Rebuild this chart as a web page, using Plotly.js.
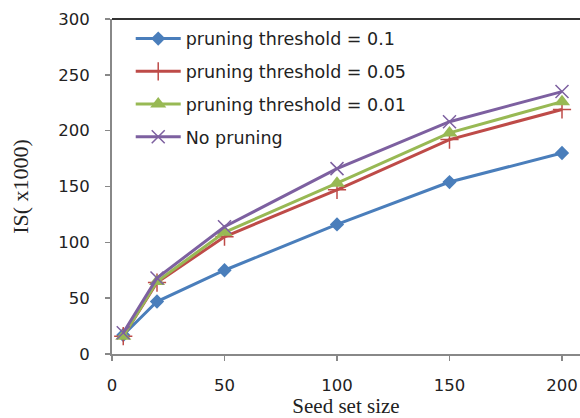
<!DOCTYPE html>
<html>
<head>
<meta charset="utf-8">
<script src="https://cdn.plot.ly/plotly-3.0.1.min.js"></script>
<style>html,body{margin:0;padding:0;background:#fff;}</style>
</head>
<body>
<div id="chart" style="width:580px;height:418px;"></div>
<script>
const seedSizes = [5, 20, 50, 100, 150, 200];
const thr01 = [17, 47, 75, 116, 154, 180];
const thr005 = [16, 64, 105, 147, 192, 219];
const thr001 = [16, 65, 109, 153, 198, 226];
const noPruning = [19, 68, 114, 166, 208, 235];
const seriesNames = ['pruning threshold = 0.1', 'pruning threshold = 0.05', 'pruning threshold = 0.01', 'No pruning'];
const yTicks = [0, 50, 100, 150, 200, 250, 300];
const xTicks = [0, 50, 100, 150, 200];

const colors = ['#4A7EBB', '#BE4B48', '#98B954', '#7D60A0'];
const symbols = ['diamond', 'cross-thin', 'triangle-up', 'x-thin'];
const sizes = [11, 13, 14, 13];
const series = [thr01, thr005, thr001, noPruning];

const traces = series.map((ys, i) => ({
  x: seedSizes,
  y: ys,
  name: seriesNames[i],
  type: 'scatter',
  mode: 'lines+markers',
  legendgroup: 'g' + i,
  line: {color: colors[i], width: 3},
  marker: {symbol: symbols[i], size: sizes[i], color: colors[i],
           line: {color: colors[i], width: (symbols[i].endsWith('thin') ? 1.5 : 0)}}
}));

const layout = {
  width: 580, height: 418,
  margin: {l: 112, r: 0, t: 19, b: 64},
  paper_bgcolor: '#fff', plot_bgcolor: '#fff',
  font: {family: 'DejaVu Sans, sans-serif', size: 17, color: '#222'},
  showlegend: true,
  legend: {x: 0.04, y: 0.995, xanchor: 'left', yanchor: 'top',
           bgcolor: 'rgba(0,0,0,0)', tracegroupgap: 7, itemwidth: 45,
           font: {family: 'DejaVu Sans, sans-serif', size: 17.5, color: '#222'}},
  xaxis: {
    range: [0, 208], tickvals: xTicks, ticktext: xTicks.map(String),
    showgrid: false, zeroline: false, showline: true, linecolor: '#888', linewidth: 2,
    ticks: 'outside', ticklen: 5, tickcolor: '#888', tickwidth: 1.5,
    ticklabelstandoff: 10,
    tickfont: {family: 'DejaVu Sans, sans-serif', size: 16.5, color: '#222'},
    title: {text: 'Seed set size', font: {family: 'Liberation Serif, serif', size: 21, color: '#222'}, standoff: 2},
    automargin: false
  },
  yaxis: {
    range: [0, 300], tickvals: yTicks, ticktext: yTicks.map(String),
    showgrid: false, zeroline: false, showline: true, linecolor: '#888', linewidth: 2,
    ticks: 'outside', ticklen: 5, tickcolor: '#888', tickwidth: 1.5,
    ticklabelstandoff: 12,
    tickfont: {family: 'DejaVu Sans, sans-serif', size: 16.5, color: '#222'},
    title: {text: 'IS( x1000)', font: {family: 'Liberation Serif, serif', size: 22, color: '#222'}, standoff: 24},
    automargin: false
  },
  shapes: [{type: 'line', xref: 'paper', yref: 'paper', x0: 0, x1: 1, y0: 1, y1: 1,
            line: {color: '#333', width: 2}}]
};

Plotly.newPlot('chart', traces, layout, {displayModeBar: false, staticPlot: true});
</script>
</body>
</html>
